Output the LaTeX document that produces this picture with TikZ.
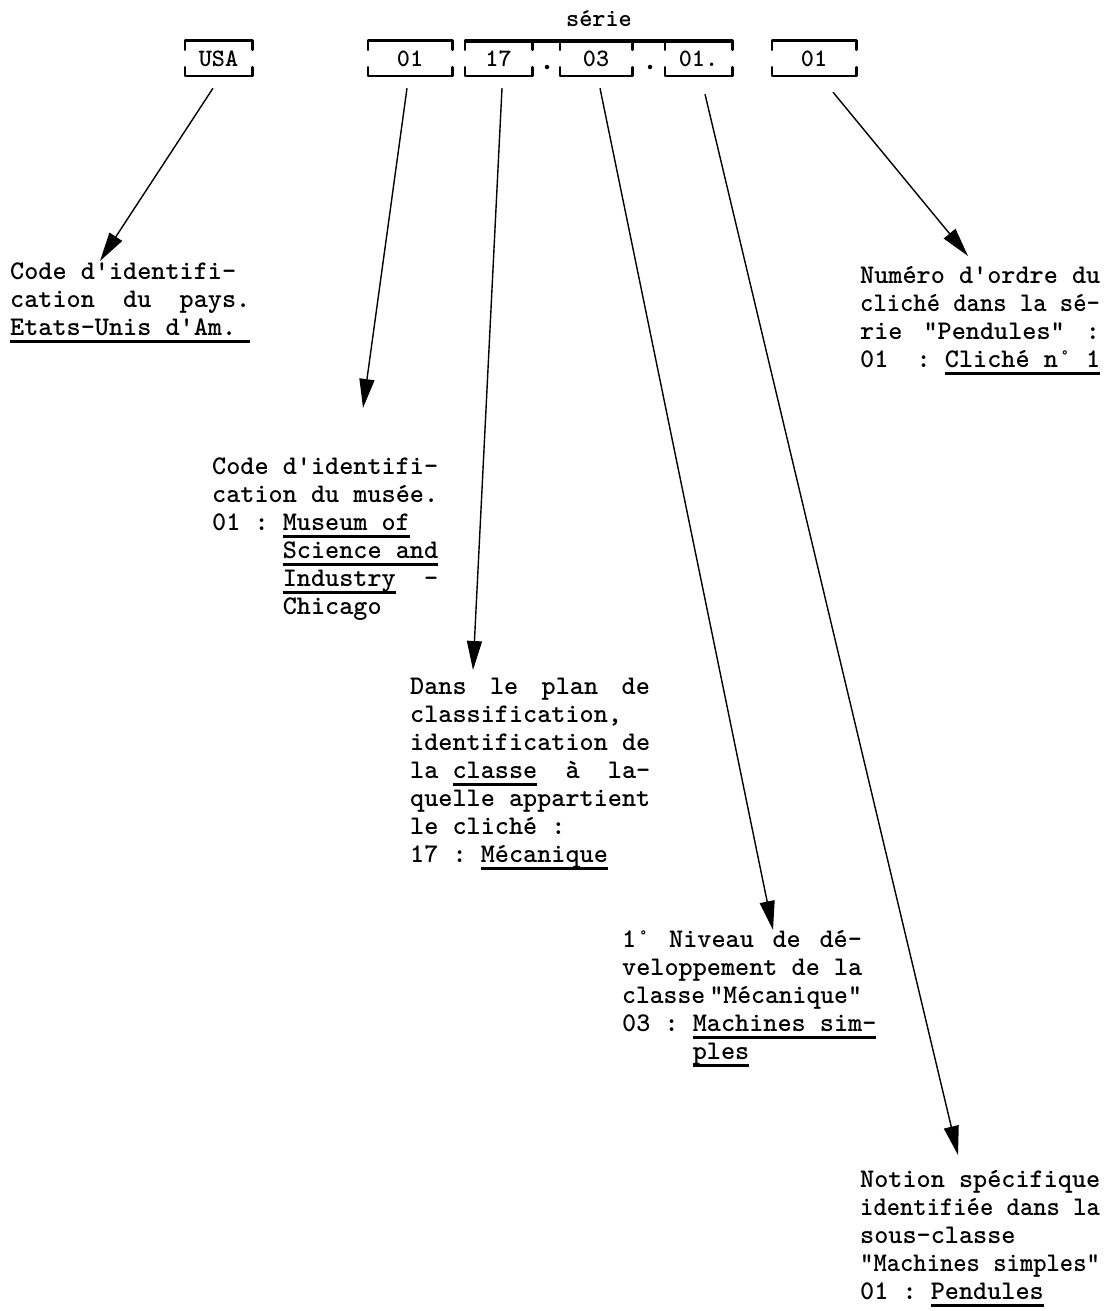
\documentclass[tikz,border=0pt]{standalone}
\usepackage{fontspec}
\usepackage{graphicx}
\newfontfamily\tw{lmmonolt10-bold}[Extension=.otf]
\usetikzlibrary{arrows.meta}
\frenchspacing
\newdimen\cw \cw=14.1pt
\newcommand\jl[2]{\hbox to #1\cw{#2}}
\newcommand\sq[2]{\resizebox{#1\cw}{\height}{#2}}
\newcommand\ul[1]{\setbox0=\hbox{#1}\rlap{\rule[-7.5pt]{\wd0}{2.4pt}}\box0}
\begin{document}
\begin{tikzpicture}[x=1pt,y=-1pt,
  codebox/.style={inner sep=0pt, minimum height=35pt, font=\tw\fontsize{25}{25}\selectfont},
  brline/.style={line width=2.6pt, line cap=round, line join=round},
  txt/.style={anchor=north west, inner sep=0pt, align=left, font=\tw\fontsize{26.9}{28}\selectfont\frenchspacing},
  arr/.style={line width=1.4pt, -{Triangle[length=29pt,width=15pt]}},
  dotn/.style={circle, fill, inner sep=0pt, minimum size=4.5pt}]
\useasboundingbox (0,0) rectangle (1109,1311);
% code boxes
\node[codebox, minimum width=67pt] (usa) at (218.5,58.5) {USA};
\node[codebox, minimum width=84pt] (mus) at (410,58.5) {01};
\node[codebox, minimum width=67pt] (cls) at (498.5,58.5) {17};
\node[codebox, minimum width=72pt] (niv) at (596,58.5) {03};
\node[codebox, minimum width=67pt] (not) at (698.5,58.5) {01.};
\node[codebox, minimum width=84pt] (ord) at (814,58.5) {01};
\node[dotn] (d1) at (547,67) {};
\node[dotn] (d2) at (650,67) {};
\foreach \n in {usa,mus,cls,niv,not,ord}{
  \draw[brline] ([yshift=-9pt]\n.north west) -- (\n.north west) -- (\n.north east) -- ([yshift=-9pt]\n.north east);
  \draw[brline] ([yshift=9pt]\n.south west) -- (\n.south west) -- (\n.south east) -- ([yshift=9pt]\n.south east);
}
\draw[line width=3.6pt] (cls.north west) -- (not.north east);
\node[font=\tw\fontsize{25}{25}\selectfont, inner sep=0pt] (serie) at (599,19) {série};
% text blocks
\node[txt] (t1) at (10,259.4) {\strut Code d'identifi-\\
cation~~du~~pays.\\
\ul{Etats-Unis d'Am.~}};
\node[txt] (t2) at (212,454.4) {\strut Code d'identifi-\\
cation du musée.\\
01 : \ul{Museum of}\\
~~~~~\ul{Science and}\\
~~~~~\ul{Industry}~~-\\
~~~~~Chicago};
\node[txt] (t3) at (410,674.4) {\strut\jl{17}{Dans\hfill le\hfill plan\hfill de}\\
classification,\\
identification de\\
la \ul{classe}~~à~~la-\\
quelle appartient\\
le cliché :\\
17 : \ul{Mécanique}};
\node[txt] (t4) at (622,927.4) {\strut\jl{17}{1°\hfill Niveau\hfill de\hfill dé-}\\
veloppement de la\\
\sq{17}{classe\,"Mécanique"}\\
03 : \ul{Machines sim-}\\
~~~~~\ul{ples}};
\node[txt] (t5) at (860,1167.4) {\strut Notion spécifique\\
\sq{17}{identifiée dans la}\\
sous-classe\\
\sq{17}{"Machines simples"}\\
01 : \ul{Pendules}};
\node[txt] (t6) at (860,263.4) {\strut Numéro d'ordre du\\
\sq{17}{cliché dans la sé-}\\
\jl{17}{rie\hfill "Pendules"\hfill :}\\
01~~:~\ul{Cliché n° 1}};
% arrow tips
\coordinate (p1) at (100,261);
\coordinate (p2) at (363,408);
\coordinate (p3) at (473,670);
\coordinate (p4) at (773,930);
\coordinate (p5) at (958,1155);
\coordinate (p6) at (968,256);
\draw[arr] ([xshift=-5.5pt,yshift=-12pt]usa.south) -- (p1);
\draw[arr] ([xshift=-3pt,yshift=-12pt]mus.south) -- (p2);
\draw[arr] ([xshift=3.5pt,yshift=-12pt]cls.south) -- (p3);
\draw[arr] ([xshift=4pt,yshift=-12pt]niv.south) -- (p4);
\draw[arr] ([xshift=6.5pt,yshift=-18pt]not.south) -- (p5);
\draw[arr] ([xshift=19pt,yshift=-16pt]ord.south) -- (p6);
\end{tikzpicture}
\end{document}
